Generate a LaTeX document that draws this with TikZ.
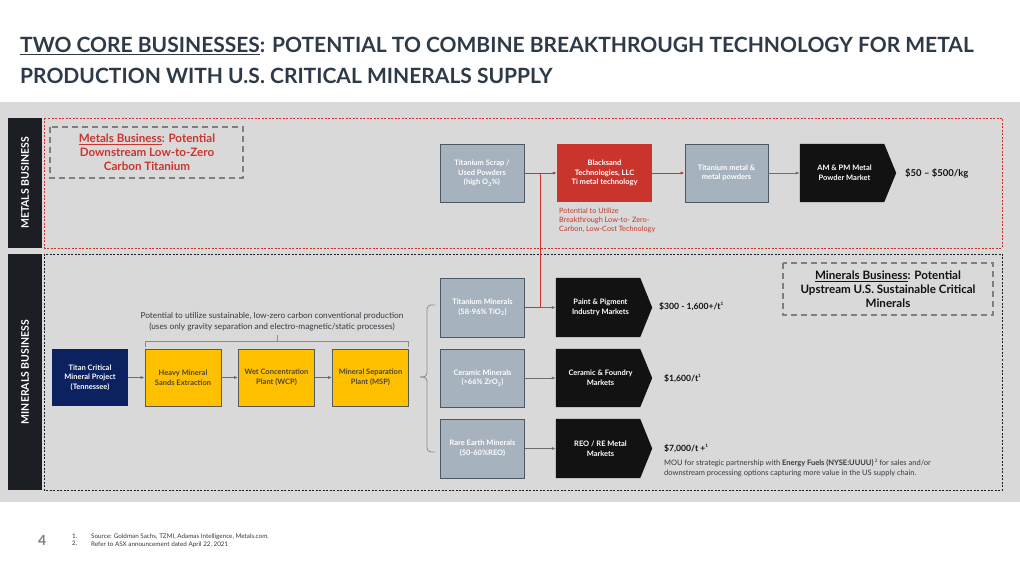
\documentclass[tikz,border=0pt]{standalone}
\usepackage{fontspec}
\setmainfont{Lato}
\usetikzlibrary{arrows.meta,backgrounds}
\definecolor{band}{HTML}{D9D9D9}
\definecolor{titlec}{HTML}{2E3A48}
\definecolor{labc}{HTML}{1B1F24}
\definecolor{gfill}{HTML}{A6B2BE}
\definecolor{gedge}{HTML}{4D5865}
\definecolor{rfill}{HTML}{C9342C}
\definecolor{rline}{HTML}{D0312D}
\definecolor{rtext}{HTML}{C0392B}
\definecolor{navy}{HTML}{0B2160}
\definecolor{yfill}{HTML}{FFC000}
\definecolor{yedge}{HTML}{5A5A5A}
\definecolor{ytext}{HTML}{4D4636}
\definecolor{blk}{HTML}{121212}
\definecolor{arr}{HTML}{6E6E6E}
\definecolor{dgray}{HTML}{7F7F7F}
\definecolor{txt}{HTML}{333A42}
\newcommand\tl{\hspace*{7pt}}
\newcommand\sups[1]{\raisebox{3.2pt}{\fontsize{4.6}{5}\selectfont #1}}
\newcommand\pentfill[1]{\fill[blk] (#1.north west) -- ([xshift=-12pt]#1.north east) -- (#1.east) -- ([xshift=-12pt]#1.south east) -- (#1.south west) -- cycle;}
\begin{document}
\begin{tikzpicture}[x=1pt,y=-1pt,
  boxbase/.style={rectangle,inner sep=0pt,align=center,font=\bfseries\fontsize{7.5}{9.6}\selectfont},
  gbox/.style={boxbase,draw=gedge,fill=gfill,line width=0.9pt,text=white,minimum width=84,minimum height=58},
  rbox/.style={boxbase,fill=rfill,text=white,minimum width=95,minimum height=58},
  nbox/.style={boxbase,fill=navy,text=white,minimum width=76,minimum height=57},
  ybox/.style={boxbase,draw=yedge,fill=yfill,text=ytext,line width=0.9pt,minimum width=76,minimum height=57},
  mkt/.style={boxbase,text=white,minimum width=96,minimum height=58},
  lab/.style={rectangle,fill=labc,text=white,rotate=90,inner sep=0pt,font=\bfseries\fontsize{10.5}{10.5}\selectfont},
  garrow/.style={draw=arr,line width=0.9pt,-{Latex[length=4pt,width=3.2pt]}},
  rarrow/.style={draw=rline,line width=0.9pt,-{Latex[length=4pt,width=3.2pt]}},
  price/.style={anchor=base west,font=\bfseries\fontsize{8.6}{10}\selectfont,text=blk,inner sep=0pt},
  ttlbox/.style={draw=dgray,line width=1.6pt,dash pattern=on 6pt off 4pt},
  brk/.style={draw=arr!80,line width=0.8pt},
]
\useasboundingbox (0,0) rectangle (1020,561);
\begin{scope}[on background layer]
\fill[white] (0,0) rectangle (1020,561);
\fill[band] (0,102) rectangle (1020,502);
\end{scope}

% Title
\node[anchor=base west,inner sep=0pt,text=titlec,font=\bfseries\fontsize{21}{21}\selectfont] (t1) at (20,53)
  {\underline{TWO CORE BUSINESSES}: POTENTIAL TO COMBINE BREAKTHROUGH TECHNOLOGY FOR METAL};
\node[anchor=base west,inner sep=0pt,text=titlec,font=\bfseries\fontsize{21}{21}\selectfont] (t2) at (20,84)
  {PRODUCTION WITH U.S. CRITICAL MINERALS SUPPLY};

% Section labels and frames
\node[lab,minimum width=130,minimum height=34] (mlab) at (25,183) {METALS BUSINESS};
\node[lab,minimum width=236,minimum height=34] (nlab) at (25,372) {MINERALS BUSINESS};
\draw[rline,line width=0.7pt,dash pattern=on 2pt off 1.5pt] (44,118) rectangle (1002,248);
\draw[labc,line width=0.7pt,dash pattern=on 2pt off 1.5pt] (44,254) rectangle (1002,490);

% Section titles
\draw[ttlbox] (50,127) rectangle (243,178);
\node[align=center,text=rfill,font=\bfseries\fontsize{11.6}{14}\selectfont,inner sep=0pt] (mt) at (147,152)
  {\underline{Metals Business}: Potential\\Downstream Low-to-Zero\\Carbon Titanium};
\draw[ttlbox] (783,263) rectangle (993,315);
\node[align=center,text=blk,font=\bfseries\fontsize{11.6}{14}\selectfont,inner sep=0pt] (nt) at (888,289)
  {\underline{Minerals Business}: Potential\\Upstream U.S. Sustainable Critical\\Minerals};

% Metals row
\node[gbox] (scrap) at (482,173) {Titanium Scrap /\\Used Powders\\(high O$_{\mathbf 2}$\%)};
\node[rbox] (bs) at (604.5,173) {Blacksand\\Technologies, LLC\\Ti metal technology};
\node[gbox,minimum width=83] (tim) at (726.5,173) {Titanium metal \&\\metal powders};
\node[mkt] (ampm) at (848,173) {AM \& PM Metal\tl\\Powder Market\tl};
\node[price,anchor=west,font=\bfseries\fontsize{9.5}{11}\selectfont] (p0) at (905,173) {\$50 -- \$500/kg};
\node[anchor=north west,align=left,inner sep=0pt,text=rtext,font=\fontsize{7.3}{9}\selectfont] (bsnote) at (559,207.5)
  {Potential to Utilize\\Breakthrough Low-to- Zero-\\Carbon, Low-Cost Technology};

% Minerals row
\node[align=center,inner sep=0pt,text=txt,font=\fontsize{8.3}{11}\selectfont] (pn) at (272,321.5)
  {Potential to utilize sustainable, low-zero carbon conventional production\\(uses only gravity separation and electro-magnetic/static processes)};
\node[nbox] (titan) at (90,377.5) {Titan Critical\\Mineral Project\\(Tennessee)};
\node[ybox] (hm) at (183,377.5) {Heavy Mineral\\Sands Extraction};
\node[ybox] (wcp) at (276.5,377.5) {Wet Concentration\\Plant (WCP)};
\node[ybox] (msp) at (370.5,377.5) {Mineral Separation\\Plant (MSP)};
\draw[brk] (145,347) -- (145,341) -- (408,341) -- (408,347);
\draw[brk] (277,341) -- (277,335);
\draw[brk,rounded corners=4pt] (435,305) -- (427,305) -- (427,377) -- (420,377);
\draw[brk,rounded corners=4pt] (420,377) -- (427,377) -- (427,452) -- (435,452);

\node[gbox,minimum height=59] (tmin) at (482.5,307.5) {Titanium Minerals\\(58-96\% TiO$_{\mathbf 2}$)};
\node[gbox,minimum height=58] (cmin) at (482.5,378) {Ceramic Minerals\\(>66\% ZrO$_{\mathbf 2}$)};
\node[gbox,minimum height=59] (rmin) at (482.5,448.5) {Rare Earth Minerals\\(50-60\%REO)};
\node[mkt,minimum height=59] (paint) at (604,307.5) {Paint \& Pigment\tl\\Industry Markets\tl};
\node[mkt] (cer) at (604,378) {Ceramic \& Foundry\tl\\Markets\tl};
\node[mkt,minimum height=59] (reo) at (604,448.5) {REO / RE Metal\tl\\Markets\tl};
\begin{scope}[on background layer]
\pentfill{ampm}
\pentfill{paint}
\pentfill{cer}
\pentfill{reo}
\end{scope}
\node[price] (p1) at (659,309) {\$300 - 1,600+/t\sups{1}};
\node[price] (p2) at (664,381) {\$1,600/t\sups{1}};
\node[price] (p3) at (664,451) {\$7,000/t +\sups{1}};
\node[anchor=north west,align=left,inner sep=0pt,text=txt,font=\fontsize{7.5}{10.5}\selectfont] (mou) at (664,458.5)
  {MOU for strategic partnership with \textbf{Energy Fuels (NYSE:UUUU)}\,\sups{2} for sales and/or\\downstream processing options capturing more value in the US supply chain.};

% Connectors
\coordinate (j1) at (540,173);
\draw[garrow] (titan) -- (hm);
\draw[garrow] (hm) -- (wcp);
\draw[garrow] (wcp) -- (msp);
\draw[garrow] (tmin) -- (paint);
\draw[garrow] (cmin) -- (cer);
\draw[garrow] (rmin) -- (reo);
\draw[garrow] (tim) -- (ampm);
\draw[rarrow] (scrap) -- (bs);
\draw[rarrow] (bs) -- (tim);
\draw[rline,line width=0.9pt] (tmin.east) -| (j1);

% Footer
\node[anchor=west,inner sep=0pt,text=dgray,font=\bfseries\fontsize{14}{14}\selectfont] (pg) at (38,540) {4};
\node[anchor=north west,align=left,inner sep=0pt,text=txt,font=\fontsize{6.3}{7.2}\selectfont] (fn1) at (72,534) {1.\\2.};
\node[anchor=north west,align=left,inner sep=0pt,text=txt,font=\fontsize{6.3}{7.2}\selectfont] (fn2) at (91,534)
  {Source: Goldman Sachs, TZMI, Adamas Intelligence, Metals.com.\\Refer to ASX announcement dated April 22, 2021};
\end{tikzpicture}
\end{document}
